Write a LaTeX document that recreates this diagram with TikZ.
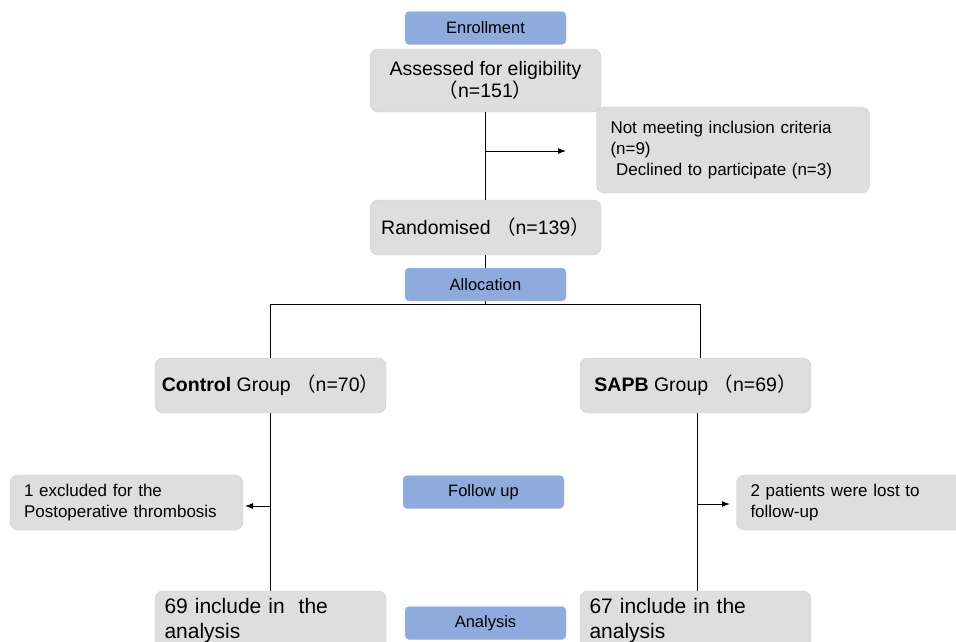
\documentclass[tikz,border=0pt]{standalone}
\usepackage{fontspec}
\setmainfont{Liberation Sans}
\newfontfamily\cjk{Noto Sans CJK SC}
\usetikzlibrary{positioning,arrows.meta}
\definecolor{boxclr}{RGB}{222,222,222}
\definecolor{boxline}{RGB}{205,205,205}
\definecolor{stageclr}{RGB}{143,170,220}
\definecolor{stageline}{RGB}{180,199,231}
\newcommand{\lp}{{\cjk （}}
\newcommand{\rp}{{\cjk ）}}
\tikzset{ %
  ,>={Latex[length=8pt,width=6pt]}
  ,stage/.style={draw=stageline, fill=stageclr, rounded corners=4pt, minimum width=161pt, minimum height=33pt, font=\fontsize{16.5}{20}\selectfont}
  ,main/.style={draw=boxline, fill=boxclr, rounded corners=8pt, minimum width=231pt, font=\fontsize{19.5}{24}\selectfont}
  ,side/.style={draw=boxline, fill=boxclr, rounded corners=8pt, align=left, inner xsep=14pt, font=\fontsize{17}{21}\selectfont}
  ,tail/.style={draw=boxline, fill=boxclr, rounded corners=8pt, align=left, text width=212pt, minimum height=60pt, font=\fontsize{21}{25}\selectfont}
  ,link/.style={line width=1pt}
}

\begin{document}
\begin{tikzpicture}[x=1pt, y=-1pt]
    \useasboundingbox (0,0) rectangle (956,641);
    % boxes
    \node[main, minimum height=63pt, align=center] (Assess) at (485.5,80.5) {Assessed for eligibility\\[-2pt]\lp n=151\rp};
    \node[side, minimum width=272pt, minimum height=86pt, text width=245pt] (NotMeet) at (733,150) {Not meeting inclusion criteria\\(n=9)\\\ Declined to participate (n=3)};
    \node[main, minimum height=55pt] (Rand) at (485.5,227.5) {Randomised\ \lp n=139\rp};
    \node[main, minimum height=55pt] (Ctrl) at (270.5,385.5) {\textbf{Control} Group\ \lp n=70\rp};
    \node[main, minimum height=55pt] (Sapb) at (695.5,385.5) {\textbf{SAPB} Group\ \lp n=69\rp};
    \node[side, minimum width=233pt, minimum height=55pt, text width=205pt] (Excl) at (126.5,502.5) {1 excluded for the\\Postoperative thrombosis};
    \node[side, minimum width=230pt, minimum height=55pt, text width=205pt] (Lost) at (853,502.5) {2 patients were lost to\\follow-up};
    \node[tail, minimum width=231pt] (IncA) at (270.5,621) {69 include in\ \ the\\analysis};
    \node[tail, minimum width=231pt] (IncB) at (695.5,621) {67 include in the\\analysis};
    % connectors
    \coordinate (branch) at (485.5,151);
    \coordinate (branchend) at (566,151);
    \coordinate (split) at (485.5,304);
    \coordinate (ctrlout) at (271,506);
    \coordinate (exclin) at (245,506);
    \coordinate (sapbout) at (697,504);
    \coordinate (lostin) at (730,504);
    \draw[link] (Assess.south) -- (Rand.north);
    \draw[link, ->] (branch) -- (branchend);
    \draw[link] (Rand.south) -- (split);
    \draw[link] (split) -| (Ctrl.north);
    \draw[link] (split) -| ([xshift=5pt]Sapb.north);
    \draw[link] (Ctrl.south) -- (IncA.north);
    \draw[link] ([xshift=1.5pt]Sapb.south) -- ([xshift=1.5pt]IncB.north);
    \draw[link, ->] (ctrlout) -- (exclin);
    \draw[link, ->] (sapbout) -- (lostin);
    % stage labels
    \node[stage] (Enrol) at (485.5,28) {Enrollment};
    \node[stage] (Alloc) at (485.5,284.5) {Allocation};
    \node[stage] (Follow) at (483.5,492) {Follow up};
    \node[stage] (Anal) at (485.5,623) {Analysis};
\end{tikzpicture}
\end{document}
